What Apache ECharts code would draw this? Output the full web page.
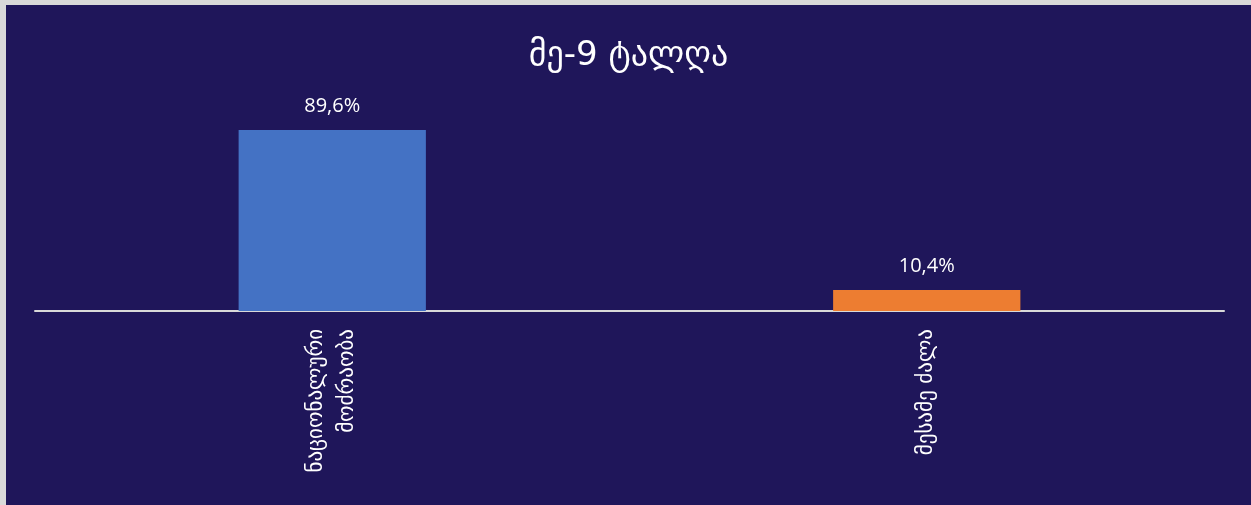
<!DOCTYPE html>
<html>
<head>
<meta charset="utf-8">
<script src="https://cdn.jsdelivr.net/npm/echarts@6/dist/echarts.min.js"></script>
<style>
html,body{margin:0;padding:0;background:#d9d9d9;width:1251px;height:505px;overflow:hidden;}
#chart{position:absolute;left:6px;top:5px;width:1245px;height:500px;background:#1f165a;}
</style>
</head>
<body>
<div id="chart"></div>
<script>
const titleText = 'მე-9 ტალღა';
const categories = ['ნაციონალური\nმოძრაობა', 'მესამე ძალა'];
const values = [89.6, 10.4];
const colors = ['#4472c4', '#ed7d31'];

const chart = echarts.init(document.getElementById('chart'));
chart.setOption({
  backgroundColor: '#1f165a',
  animation: false,
  title: {
    text: titleText,
    left: 'center',
    top: 29,
    textStyle: {color: '#ffffff', fontSize: 34, fontWeight: 'normal', fontFamily: 'DejaVu Sans'}
  },
  grid: {left: 29, right: 27, top: 104, bottom: 194},
  xAxis: {
    type: 'category',
    data: categories,
    axisLine: {lineStyle: {color: '#d9d9d9', width: 2}},
    axisTick: {show: false},
    axisLabel: {
      rotate: 90,
      margin: 18,
      color: '#ffffff',
      fontSize: 21,
      lineHeight: 31,
      fontFamily: 'DejaVu Sans',
      interval: 0
    }
  },
  yAxis: {
    type: 'value',
    min: 0,
    max: 100,
    show: false,
    splitLine: {show: false}
  },
  series: [{
    type: 'bar',
    barWidth: '31.5%',
    data: values.map((v, i) => ({value: v, itemStyle: {color: colors[i]}})),
    label: {
      show: true,
      position: 'top',
      distance: 14,
      color: '#ffffff',
      fontSize: 20,
      fontFamily: 'Open Sans',
      formatter: p => p.value.toFixed(1).replace('.', ',') + '%'
    }
  }]
});
</script>
</body>
</html>
